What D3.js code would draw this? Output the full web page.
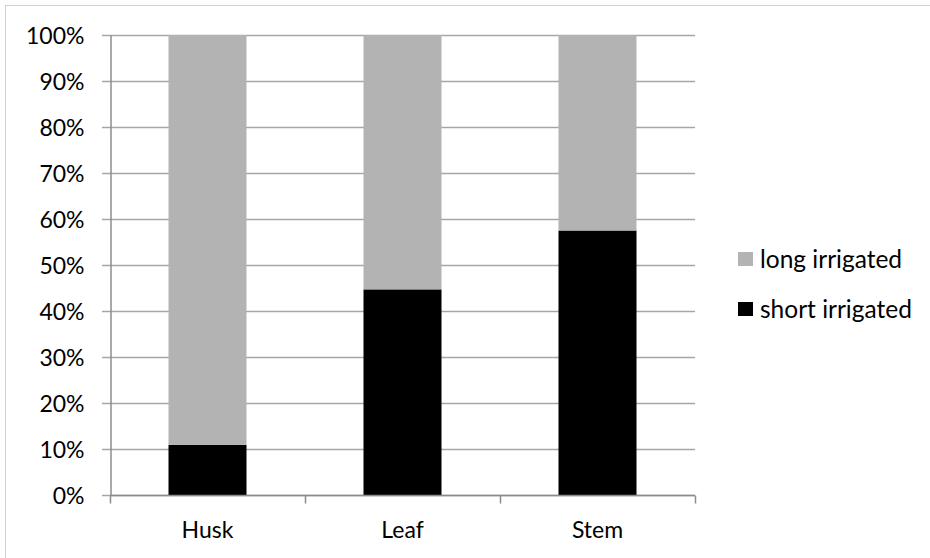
<!DOCTYPE html>
<html>
<head>
<meta charset="utf-8">
<script src="https://cdn.jsdelivr.net/npm/d3@7"></script>
<style>
  html, body { margin: 0; padding: 0; background: #fff; }
  svg { display: block; }
  text { font-family: Lato, "Open Sans", sans-serif; fill: #000; }
</style>
</head>
<body>
<svg id="chart" width="930" height="558"></svg>
<script>
// Share of each plant part (percent)
const categories = ["Husk", "Leaf", "Stem"];
const shortIrrigated = [10.9, 44.7, 57.5];
const longIrrigated = [89.1, 55.3, 42.5];
const yTicks = [0, 10, 20, 30, 40, 50, 60, 70, 80, 90, 100];
const seriesNames = ["short irrigated", "long irrigated"];
const seriesColors = ["#000000", "#b3b3b3"];

const svg = d3.select("#chart");
const W = 930, H = 558;
const m = { left: 110, right: 235, top: 35, bottom: 63 };
const plotW = W - m.left - m.right;
const plotH = H - m.top - m.bottom;

// chart frame
svg.append("rect")
  .attr("x", 5.5).attr("y", 5.5)
  .attr("width", W + 10).attr("height", H + 10)
  .attr("fill", "#fff").attr("stroke", "#d0d0d0").attr("stroke-width", 1);

const x = d3.scaleBand().domain(categories).range([m.left, m.left + plotW]).paddingInner(0.6).paddingOuter(0.3);
const xEdge = d3.scaleLinear().domain([0, categories.length]).range([m.left, m.left + plotW]);
const y = d3.scaleLinear().domain([0, 100]).range([m.top + plotH, m.top]);

// gridlines
svg.append("g")
  .selectAll("line").data(yTicks).join("line")
  .attr("x1", m.left - 8).attr("x2", m.left + plotW)
  .attr("y1", d => Math.round(y(d)) + 0.5).attr("y2", d => Math.round(y(d)) + 0.5)
  .attr("stroke", "#a6a6a6").attr("stroke-width", 1.5);

// stacked bars
const rows = categories.map((c, i) => ({ cat: c, "short irrigated": shortIrrigated[i], "long irrigated": longIrrigated[i] }));
const stacked = d3.stack().keys(seriesNames)(rows);
svg.append("g")
  .selectAll("g").data(stacked).join("g")
  .attr("fill", (d, i) => seriesColors[i])
  .selectAll("rect").data(d => d).join("rect")
  .attr("x", d => x(d.data.cat))
  .attr("width", x.bandwidth())
  .attr("y", d => y(d[1]))
  .attr("height", d => y(d[0]) - y(d[1]));

// y axis
const yAxis = svg.append("g")
  .attr("transform", `translate(${m.left + 0.5},0)`)
  .call(d3.axisLeft(y).tickValues(yTicks).tickFormat(d => d + "%").tickSize(0).tickPadding(26));
yAxis.select(".domain").attr("stroke", "#8c8c8c").attr("stroke-width", 1.5);
yAxis.selectAll("text").style("font-size", "23px").attr("dy", "0.35em");

// x axis
const baseY = Math.round(y(0)) + 0.5;
svg.append("line")
  .attr("x1", m.left).attr("x2", m.left + plotW)
  .attr("y1", baseY).attr("y2", baseY)
  .attr("stroke", "#8c8c8c").attr("stroke-width", 1.5);
svg.append("g")
  .selectAll("line").data(d3.range(categories.length + 1)).join("line")
  .attr("x1", d => Math.round(xEdge(d)) + 0.5).attr("x2", d => Math.round(xEdge(d)) + 0.5)
  .attr("y1", baseY).attr("y2", baseY + 8)
  .attr("stroke", "#8c8c8c").attr("stroke-width", 1.5);
svg.append("g")
  .selectAll("text").data(categories).join("text")
  .attr("x", d => x(d) + x.bandwidth() / 2)
  .attr("y", 538)
  .attr("text-anchor", "middle")
  .style("font-size", "23px")
  .text(d => d);

// legend (long irrigated listed first)
const legendItems = [
  { name: "long irrigated", color: seriesColors[1], cy: 259 },
  { name: "short irrigated", color: seriesColors[0], cy: 309 }
];
const lg = svg.append("g");
lg.selectAll("rect").data(legendItems).join("rect")
  .attr("x", 738).attr("y", d => d.cy - 7)
  .attr("width", 15).attr("height", 14)
  .attr("fill", d => d.color);
lg.selectAll("text").data(legendItems).join("text")
  .attr("x", 760).attr("y", d => d.cy)
  .attr("dy", "0.35em")
  .style("font-size", "24.5px")
  .text(d => d.name);
</script>
</body>
</html>
